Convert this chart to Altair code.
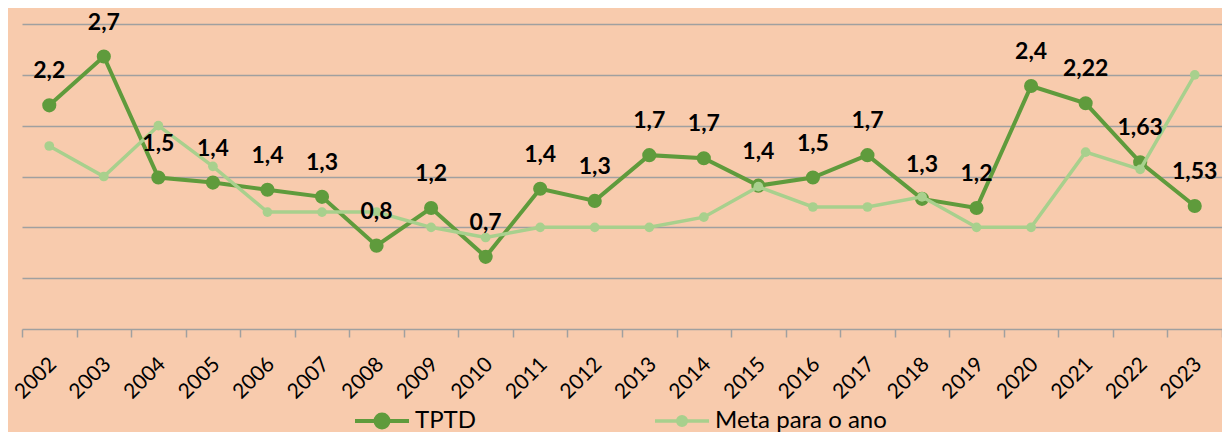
import altair as alt
import pandas as pd

years = list(range(2002, 2024))
tptd = [2.20, 2.68, 1.49, 1.44, 1.37, 1.30, 0.82, 1.19, 0.71, 1.38, 1.26,
        1.71, 1.68, 1.41, 1.49, 1.71, 1.28, 1.19, 2.39, 2.22, 1.64, 1.21]
tptd_labels = ["2,2", "2,7", "1,5", "1,4", "1,4", "1,3", "0,8", "1,2", "0,7", "1,4", "1,3",
               "1,7", "1,7", "1,4", "1,5", "1,7", "1,3", "1,2", "2,4", "2,22", "1,63", "1,53"]
meta = [1.80, 1.50, 2.00, 1.60, 1.15, 1.15, 1.15, 1.00, 0.90, 1.00, 1.00,
        1.00, 1.10, 1.40, 1.20, 1.20, 1.30, 1.00, 1.00, 1.74, 1.57, 2.50]
series_names = ["TPTD", "Meta para o ano"]
colors = ["#5F9B3C", "#A8D08D"]

n = len(years)
df = pd.DataFrame({
    "ano": years * 2,
    "valor": tptd + meta,
    "serie": [series_names[0]] * n + [series_names[1]] * n,
    "rotulo": tptd_labels + [""] * n,
})

GRAY = "#A0A0A0"
FONT = "Lato"
x_ticks = [y - 0.5 for y in years] + [years[-1] + 0.5]

x = alt.X(
    "ano:Q",
    scale=alt.Scale(domain=[years[0] - 0.5, years[-1] + 0.5], nice=False, zero=False),
    axis=alt.Axis(
        values=x_ticks,
        labelExpr=f"datum.value < {years[-1]} ? format(datum.value + 0.5, 'd') : ''",
        labelAngle=-45, labelAlign="right", labelBaseline="top",
        labelOffset=23, labelPadding=16, labelOverlap=False, labelFlush=False, labelBound=False,
        tickSize=8, tickColor=GRAY, tickWidth=1.5, domainColor=GRAY, domainWidth=1.5,
        grid=False, title=None, labelFont=FONT, labelFontSize=21, labelColor="#000000",
    ),
)
y = alt.Y(
    "valor:Q",
    scale=alt.Scale(domain=[0, 3], nice=False, zero=True),
    axis=alt.Axis(values=[0.5, 1, 1.5, 2, 2.5, 3], grid=True, gridColor=GRAY, gridWidth=1.5,
                  labels=False, ticks=False, domain=False, title=None),
)


def sym(r):
    return f"M-1,0L1,0M-{r},0A{r},{r},0,1,1,{r},0A{r},{r},0,1,1,-{r},0Z"


def color_enc(i, lx, r, sw):
    return alt.Color(
        "serie:N",
        scale=alt.Scale(domain=[series_names[i]], range=[colors[i]]),
        legend=alt.Legend(
            title=None, orient="none", legendX=lx, legendY=368, direction="horizontal",
            symbolType=sym(r), symbolSize=2916, symbolFillColor=colors[i],
            symbolStrokeColor=colors[i], symbolStrokeWidth=sw, symbolOpacity=1,
            labelOffset=4, labelLimit=400, labelFont=FONT, labelFontSize=24,
            labelColor="#000000",
        ),
    )


def group(i, lx, r, sw, lw, ps):
    b = alt.Chart(df).transform_filter(alt.datum.serie == series_names[i]).encode(
        x=x, y=y, color=color_enc(i, lx, r, sw))
    return alt.layer(
        b.mark_line(strokeWidth=lw),
        b.mark_point(filled=True, size=ps, opacity=1, shape="circle"),
    )


g_tptd = group(0, 331, 0.24, 4, 4, 200)
g_meta = group(1, 631, 0.16, 3.5, 3.5, 95)

labels = alt.Chart(df).transform_filter(alt.datum.serie == series_names[0]).mark_text(
    dy=-34, font=FONT, fontSize=23, fontWeight="bold", color="#000000", baseline="middle"
).encode(x=x, y=y, text="rotulo:N")

chart = alt.layer(g_tptd, g_meta, labels).resolve_scale(color="independent").properties(
    width=1200, height=305,
    autosize=alt.AutoSizeParams(type="none"),
    padding={"left": 14, "top": 16, "right": 0, "bottom": 103},
).configure(background="#F8CBAD").configure_view(stroke=None)

chart.save("out.html", embed_options={"renderer": "svg", "actions": False})
